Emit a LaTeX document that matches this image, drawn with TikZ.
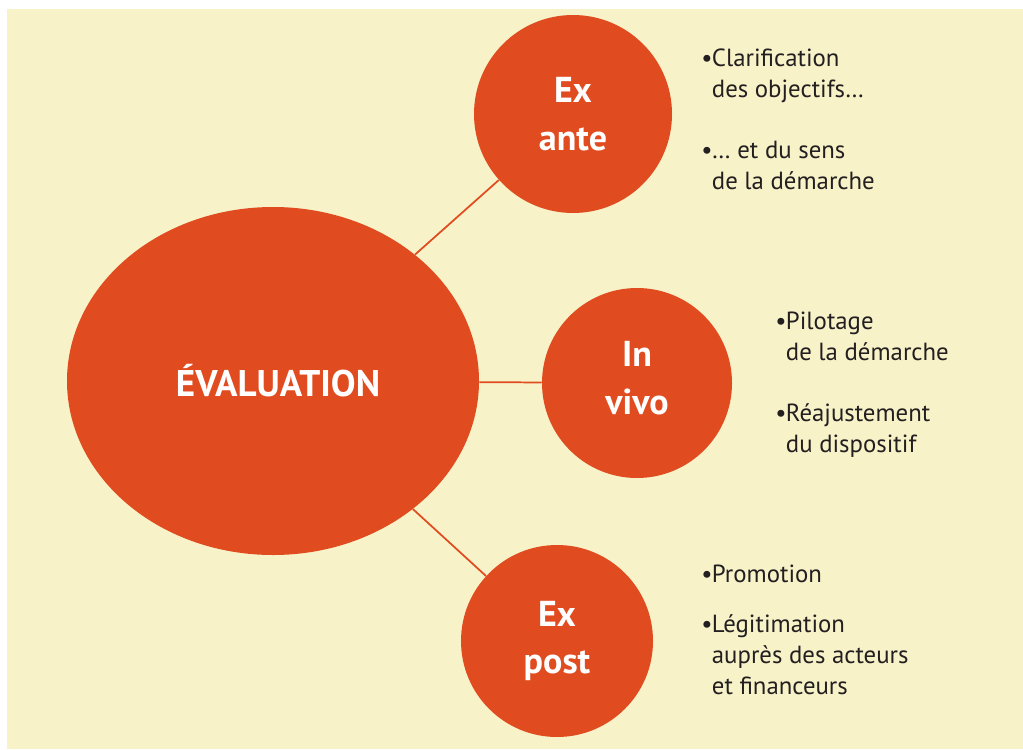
\documentclass[tikz,border=0pt]{standalone}
\usepackage{fontspec}
\setmainfont{PT Sans}
\usetikzlibrary{shapes.geometric}
\definecolor{bg}{HTML}{F7F2C8}
\definecolor{org}{HTML}{E14B20}
\definecolor{txt}{HTML}{231F20}
\newcommand{\bul}{\makebox[6.5pt][l]{\kern-1.5pt•}}
\newcommand{\ind}{\hspace*{6.5pt}}
\tikzset{
  bubble/.style={circle, fill=org, draw=none, inner sep=0pt},
  btext/.style={text=white, align=center, inner sep=0pt,
    font=\bfseries\fontsize{27}{35.5}\selectfont},
  link/.style={draw=org, line width=1.3pt},
  item/.style={anchor=base west, inner sep=0pt, text=txt, font=\fontsize{18.6}{23.25}\selectfont}
}
\begin{document}
\begin{tikzpicture}[x=0.75pt,y=-0.75pt]
\useasboundingbox (0,0) rectangle (1023,749);
\fill[bg] (7,9) rectangle (1023,749);
\node[ellipse, fill=org, inner sep=0pt, minimum width=309pt, minimum height=261pt] (main) at (273,381) {};
\node[btext, font=\bfseries\fontsize{27.8}{35.5}\selectfont] (mainl) at (278,381) {ÉVALUATION};
\node[bubble, minimum size=148.5pt] (ante) at (573,114) {};
\node[bubble, minimum size=142.5pt] (vivo) at (637,383) {};
\node[bubble, minimum size=144pt] (post) at (557,641) {};
\node[btext] (antel) at (573,114) {Ex\\ante};
\node[btext] (vivol) at (637,378) {In\\vivo};
\node[btext] (postl) at (557,641) {Ex\\post};
\draw[link] (main) -- (ante);
\draw[link] (main) -- (vivo);
\draw[link] (main) -- (post);
\node[item] (a1) at (703,67) {\begin{tabular}[t]{@{}l@{}}\bul Clarification\\\ind des objectifs…\end{tabular}};
\node[item] (a2) at (703,158) {\begin{tabular}[t]{@{}l@{}}\bul … et du sens\\\ind de la démarche\end{tabular}};
\node[item] (v1) at (777,329) {\begin{tabular}[t]{@{}l@{}}\bul Pilotage\\\ind de la démarche\end{tabular}};
\node[item] (v2) at (777,421) {\begin{tabular}[t]{@{}l@{}}\bul Réajustement\\\ind du dispositif\end{tabular}};
\node[item] (p1) at (703,582) {\begin{tabular}[t]{@{}l@{}}\bul Promotion\end{tabular}};
\node[item] (p2) at (703,632) {\begin{tabular}[t]{@{}l@{}}\bul Légitimation\\\ind auprès des acteurs\\\ind et financeurs\end{tabular}};
\end{tikzpicture}
\end{document}
